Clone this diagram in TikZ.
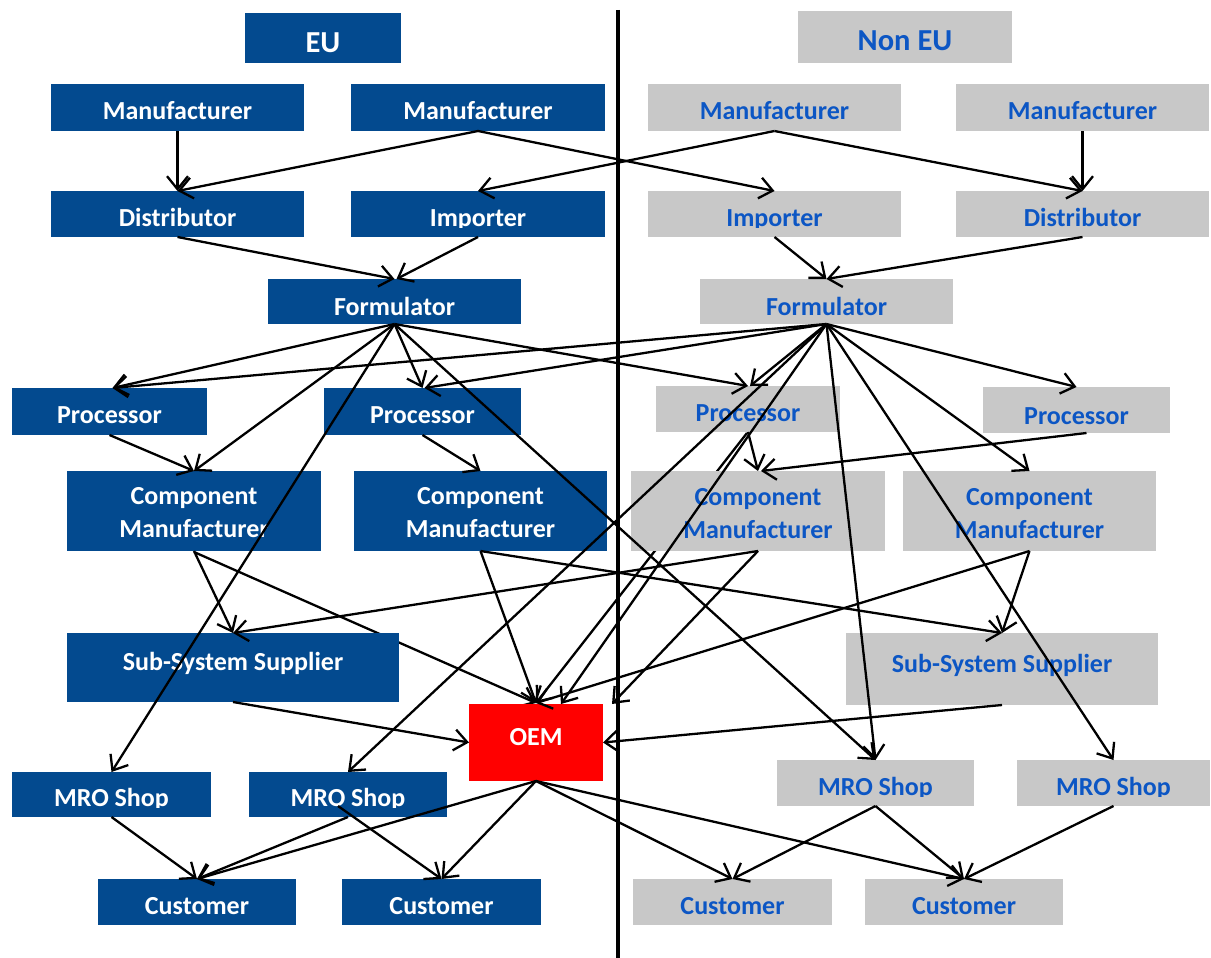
\documentclass[tikz,border=0pt]{standalone}
\usepackage{fontspec}
\setmainfont{Carlito}
\usetikzlibrary{arrows.meta}

\definecolor{euBlue}{RGB}{3,74,143}
\definecolor{neGray}{RGB}{200,200,200}
\definecolor{neText}{RGB}{12,86,196}
\definecolor{oemRed}{RGB}{255,0,0}

\tikzset{
  boxbase/.style={draw=none, inner sep=0pt, outer sep=0pt},
  eubox/.style={boxbase, fill=euBlue},
  euhbox/.style={eubox},
  nebox/.style={boxbase, fill=neGray},
  nehbox/.style={nebox},
  oembox/.style={boxbase, fill=oemRed},
  txtbase/.style={inner sep=0pt, outer sep=0pt, font=\bfseries\fontsize{26}{31}\selectfont},
  eutxt/.style={txtbase, text=white},
  oemtxt/.style={txtbase, text=white},
  netxt/.style={txtbase, text=neText},
  euhtxt/.style={eutxt, font=\bfseries\fontsize{30.5}{36}\selectfont},
  nehtxt/.style={netxt, font=\bfseries\fontsize{30.5}{36}\selectfont},
  conn/.style={line width=2.3pt, black, -{Straight Barb[length=13pt,width=21pt]}},
  divider/.style={line width=4pt, black}
}

% box from corner (#3,#4) to (#5,#6), label #8 sitting on baseline #7
\newcommand\mkbox[8]{%
  \node[#1box, minimum width={(#5-#3)*1pt}, minimum height={(#6-#4)*1pt}] (#2) at ({(#3+#5)/2},{(#4+#6)/2}) {};
  \node[#1txt, anchor=base] (#2-t) at ({(#3+#5)/2},#7) {#8};
}
% same, with the label cut off just below its baseline
\newcommand\mkboxc[8]{%
  \node[#1box, minimum width={(#5-#3)*1pt}, minimum height={(#6-#4)*1pt}] (#2) at ({(#3+#5)/2},{(#4+#6)/2}) {};
  \begin{scope}
    \clip (#3,#4) rectangle (#5,{#7+1});
    \node[#1txt, anchor=base] (#2-t) at ({(#3+#5)/2},#7) {#8};
  \end{scope}
}
% two-line component manufacturer box
\newcommand\mkcomp[8]{%
  \node[#1box, minimum width={(#5-#3)*1pt}, minimum height={(#6-#4)*1pt}] (#2) at ({(#3+#5)/2},{(#4+#6)/2}) {};
  \node[#1txt, anchor=base] (#2-t) at ({(#3+#5)/2},#7) {Component};
  \node[#1txt, anchor=base] (#2-u) at ({(#3+#5)/2},#8) {Manufacturer};
}

\begin{document}
\begin{tikzpicture}[x=1pt,y=-1pt]
\useasboundingbox (0,0) rectangle (1211,958);

% placeholders so that the hidden connectors can be drawn first
\coordinate (oemTop) at (536,703);

% connectors that run underneath boxes
\draw[conn] (747,433) -- (oemTop);
\draw[conn] (194,552) -- (oemTop);

% ---- EU side ----
\mkbox{euh}{eu}{245}{13}{401}{63}{52.5}{EU}
\mkbox{eu}{mfgE1}{51}{84}{304}{131}{119}{Manufacturer}
\mkbox{eu}{mfgE2}{351}{84}{605}{131}{119}{Manufacturer}
\mkbox{eu}{distE}{51}{191}{304}{237}{226}{Distributor}
\mkboxc{eu}{impE}{351}{191}{605}{237}{226}{Importer}
\mkbox{eu}{formE}{268}{279}{521}{324}{315}{Formulator}
\mkbox{eu}{procE1}{12}{388}{207}{435}{423}{Processor}
\mkbox{eu}{procE2}{324}{388}{521}{435}{423}{Processor}
\mkcomp{eu}{compE1}{67}{471}{321}{551}{504.5}{537.5}
\mkcomp{eu}{compE2}{354}{471}{607}{551}{504.5}{537.5}
\mkbox{eu}{subE}{67}{633}{399}{702}{670.7}{Sub-System Supplier}
\mkboxc{eu}{mroE1}{12}{772}{211}{817}{806.5}{MRO Shop}
\mkboxc{eu}{mroE2}{249}{772}{447}{817}{806.5}{MRO Shop}
\mkbox{eu}{custE1}{98}{879}{296}{925}{914}{Customer}
\mkbox{eu}{custE2}{342}{879}{541}{925}{914}{Customer}

% ---- OEM ----
\mkbox{oem}{oem}{469}{704}{603}{781}{745}{OEM}

% ---- Non EU side ----
\mkbox{neh}{neu}{798}{11}{1012}{63}{51}{Non EU}
\mkbox{ne}{mfgN1}{648}{84}{901}{131}{119}{Manufacturer}
\mkbox{ne}{mfgN2}{956}{84}{1209}{131}{119}{Manufacturer}
\mkboxc{ne}{impN}{648}{191}{901}{237}{226}{Importer}
\mkbox{ne}{distN}{956}{191}{1209}{237}{226}{Distributor}
\mkbox{ne}{formN}{700}{279}{953}{324}{315}{Formulator}
\mkbox{ne}{procN1}{656}{386}{840}{432}{421.5}{Processor}
\mkbox{ne}{procN2}{983}{387}{1170}{433}{424}{Processor}
\mkcomp{ne}{compN1}{631}{471}{885}{551}{505.5}{538}
\mkcomp{ne}{compN2}{903}{471}{1156}{551}{505.5}{538}
\mkbox{ne}{subN}{846}{633}{1158}{705}{672.7}{Sub-System Supplier}
\mkboxc{ne}{mroN1}{777}{760}{974}{806}{795}{MRO Shop}
\mkboxc{ne}{mroN2}{1017}{760}{1210}{806}{795}{MRO Shop}
\mkbox{ne}{custN1}{633}{879}{832}{925}{914}{Customer}
\mkbox{ne}{custN2}{865}{879}{1063}{925}{914}{Customer}

% dividing line between EU and Non EU
\coordinate (divTop) at (618,10);
\coordinate (divBot) at (618,958);
\draw[divider] (divTop) -- (divBot);

% ---- supply chain, top ----
\draw[conn] (mfgE1.south) -- (distE.north);
\draw[conn] (mfgE2.south) -- (distE.north);
\draw[conn] (mfgE2.south) -- (impN.north);
\draw[conn] (mfgN1.south) -- (impE.north);
\draw[conn] (mfgN1.south) -- (distN.north);
\draw[conn] (mfgN2.south) -- (distN.north);
\draw[conn] (distE.south) -- (formE.north);
\draw[conn] (impE.south) -- ([xshift=2pt]formE.north);
\draw[conn] (impN.south) -- (formN.north);
\draw[conn] (distN.south) -- (formN.north);

% ---- from the EU formulator ----
\draw[conn] (formE.south) -- ([xshift=3pt]procE1.north);
\draw[conn] (formE.south) -- (procE2.north);
\draw[conn] (formE.south) -- (compE1.north);
\draw[conn] (formE.south) -- (mroE1.north);
\draw[conn] (formE.south) -- (procN1.north);
\draw[conn] (formE.south) -- (mroN1.north);

% ---- from the Non EU formulator ----
\draw[conn] (formN.south) -- ([xshift=3pt]procE1.north);
\draw[conn] (formN.south) -- ([xshift=2pt]procE2.north);
\draw[conn] (formN.south) -- ([xshift=2pt]procN1.north);
\draw[conn] (formN.south) -- (procN2.north);
\draw[conn] (formN.south) -- (compN2.north);
\draw[conn] (formN.south) -- (mroN1.north);
\draw[conn] (formN.south) -- (mroN2.north);
\draw[conn] (formN.south) -- (mroE2.north);
\draw[conn] (formN.south) -- ([xshift=25pt]oem.north);

% ---- processors ----
\draw[conn] (procE1.south) -- (compE1.north);
\draw[conn] (procE2.south) -- (compE2.north);
\draw[conn] (procN1.south) -- (compN1.north);
\draw[conn] ([xshift=10pt]procN2.south) -- ([xshift=3pt]compN1.north);

% ---- component manufacturers ----
\draw[conn] (compE1.south) -- (subE.north);
\draw[conn] (compE2.south) -- (oemTop);
\draw[conn] (compE2.south) -- (subN.north);
\draw[conn] (compN1.south) -- (subE.north);
\draw[conn] (compN1.south) -- ([xshift=9pt]oem.north east);
\draw[conn] (compN2.south) -- (subN.north);
\draw[conn] (compN2.south) -- (oemTop);

% ---- sub-system suppliers ----
\draw[conn] (subE.south) -- (oem.west);
\draw[conn] (subN.south) -- (oem.east);

% ---- OEM to customers ----
\draw[conn] (oem.south) -- (custE1.north);
\draw[conn] (oem.south) -- (custE2.north);
\draw[conn] (oem.south) -- (custN1.north);
\draw[conn] (oem.south) -- (custN2.north);

% ---- MRO shops to customers ----
\draw[conn] (mroE1.south) -- (custE1.north);
\draw[conn] (mroE2.south) -- (custE1.north);
\draw[conn] ([xshift=-10pt,yshift=11pt]mroE2.south) -- (custE2.north);
\draw[conn] (mroN1.south) -- (custN1.north);
\draw[conn] (mroN1.south) -- (custN2.north);
\draw[conn] (mroN2.south) -- (custN2.north);
\end{tikzpicture}
\end{document}
